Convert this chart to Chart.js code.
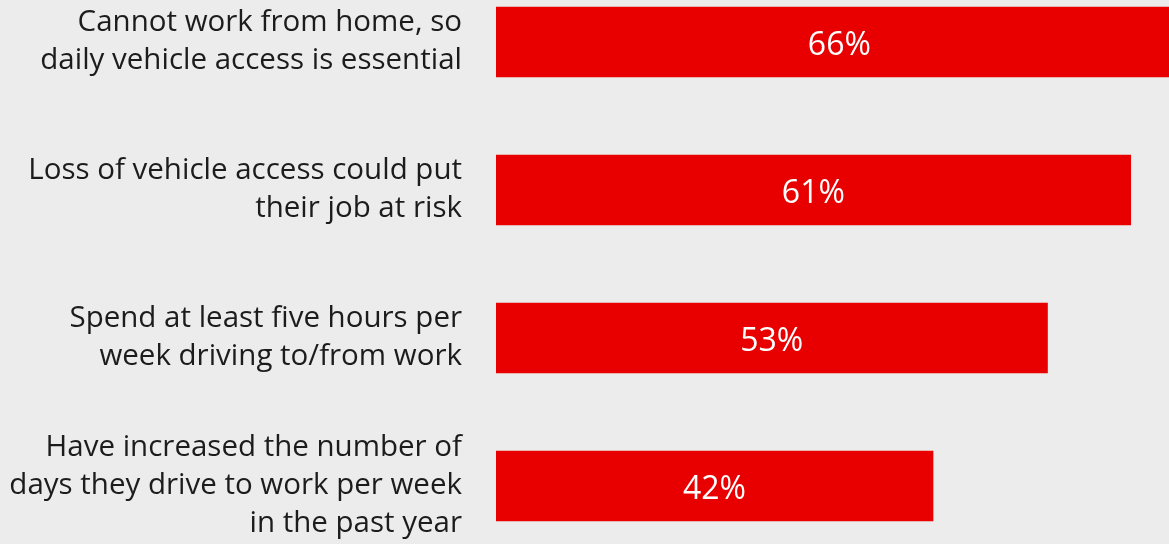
<!DOCTYPE html>
<html>
<head>
<meta charset="utf-8">
<script src="https://cdn.jsdelivr.net/npm/chart.js@4/dist/chart.umd.min.js"></script>
<style>
  html, body { margin: 0; padding: 0; background: #ececec; overflow: hidden; width: 1169px; height: 544px; }
  #wrap { position: absolute; left: 0; top: -32px; width: 1169px; height: 592px; }
</style>
</head>
<body>
<div id="wrap"><canvas id="c"></canvas></div>
<script>
// Share of drivers agreeing with each statement (%)
const categories = [
  ["Cannot work from home, so", "daily vehicle access is essential"],
  ["Loss of vehicle access could put", "their job at risk"],
  ["Spend at least five hours per", "week driving to/from work"],
  ["Have increased the number of", "days they drive to work per week", "in the past year"]
];
const values = [66, 61, 53, 42];
const valueLabels = ["66%", "61%", "53%", "42%"];

const FONT = "'Open Sans', 'DejaVu Sans', sans-serif";

// Writes each bar's value in white at the middle of the bar
const barValueLabels = {
  id: 'barValueLabels',
  afterDatasetsDraw(chart) {
    const ctx = chart.ctx;
    const meta = chart.getDatasetMeta(0);
    ctx.save();
    ctx.fillStyle = '#ffffff';
    ctx.font = "32px " + FONT;
    ctx.textAlign = 'center';
    ctx.textBaseline = 'middle';
    meta.data.forEach((bar, i) => {
      const cx = (bar.x + bar.base) / 2;
      ctx.fillText(valueLabels[i], cx, bar.y + 4);
    });
    ctx.restore();
  }
};

new Chart(document.getElementById('c'), {
  type: 'bar',
  data: {
    labels: categories,
    datasets: [{
      data: values,
      backgroundColor: '#e80000',
      borderWidth: 0,
      barThickness: 70
    }]
  },
  options: {
    indexAxis: 'y',
    responsive: true,
    maintainAspectRatio: false,
    animation: false,
    layout: { padding: 0 },
    plugins: {
      legend: { display: false },
      tooltip: { enabled: false }
    },
    scales: {
      x: {
        display: false,
        min: 0,
        max: 64.68
      },
      y: {
        afterFit(scale) {
          scale.width = 496;
          scale.paddingTop = 0;
          scale.paddingBottom = 0;
        },
        grid: { display: false, drawTicks: false },
        border: { display: false },
        ticks: {
          color: '#1c1c1c',
          padding: 34,
          font: { family: FONT, size: 29.5, lineHeight: 1.29 }
        }
      }
    }
  },
  plugins: [barValueLabels]
});
</script>
</body>
</html>
